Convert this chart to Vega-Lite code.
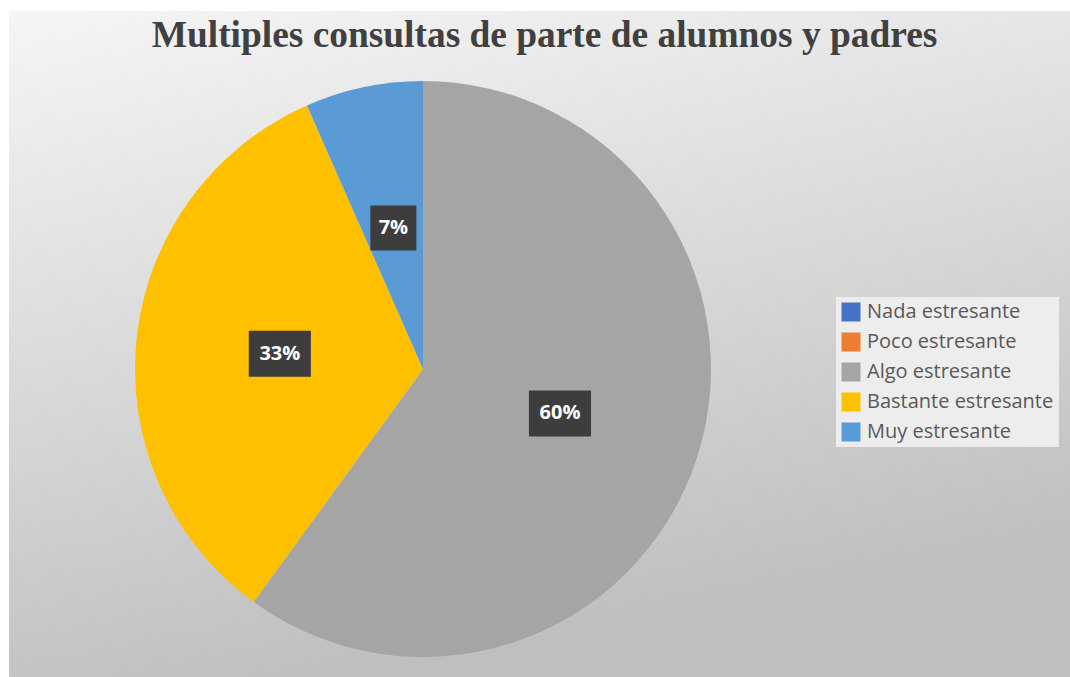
{
  "$schema": "https://vega.github.io/schema/vega-lite/v6.json",
  "width": 1061,
  "height": 666,
  "autosize": {"type": "none"},
  "padding": {"left": 9, "top": 11, "right": 0, "bottom": 0},
  "background": "#ffffff",
  "config": {"view": {"stroke": "#d4d4d4", "strokeWidth": 1}},
  "title": {
    "text": "Multiples consultas de parte de alumnos y padres",
    "font": "Liberation Serif",
    "fontSize": 37.4,
    "fontWeight": "bold",
    "color": "#404040",
    "anchor": "middle",
    "frame": "group",
    "orient": "top",
    "baseline": "alphabetic",
    "offset": -73,
    "dx": 5
  },
  "data": {
    "values": [
      {"categoria": "Nada estresante", "share": 0},
      {"categoria": "Poco estresante", "share": 0},
      {"categoria": "Algo estresante", "share": 0.600},
      {"categoria": "Bastante estresante", "share": 0.334},
      {"categoria": "Muy estresante", "share": 0.066}
    ]
  },
  "layer": [
    {
      "data": {"values": [{}]},
      "mark": {
        "type": "rect",
        "fill": {
          "gradient": "linear",
          "x1": 0, "y1": 0, "x2": 0.3, "y2": 1,
          "stops": [
            {"offset": 0, "color": "#f5f5f5"},
            {"offset": 1, "color": "#bfbfbf"}
          ]
        }
      },
      "encoding": {}
    },
    {
      "mark": {"type": "arc", "radius": 288},
      "encoding": {
        "x": {"datum": 0, "type": "quantitative", "scale": {"domain": [-1, 1], "range": [126, 702]}, "axis": null},
        "y": {"datum": 0, "type": "quantitative", "scale": {"domain": [-1, 1], "range": [646, 70]}, "axis": null},
        "theta": {"field": "share", "type": "quantitative", "stack": true},
        "color": {
          "field": "categoria",
          "type": "nominal",
          "sort": ["Nada estresante", "Poco estresante", "Algo estresante", "Bastante estresante", "Muy estresante"],
          "scale": {
            "domain": ["Nada estresante", "Poco estresante", "Algo estresante", "Bastante estresante", "Muy estresante"],
            "range": ["#4472C4", "#ED7D31", "#A5A5A5", "#FFC000", "#5B9BD5"]
          },
          "legend": {
            "title": null,
            "orient": "none",
            "legendX": 827,
            "legendY": 286,
            "direction": "vertical",
            "symbolType": "square",
            "symbolSize": 361,
            "symbolStrokeWidth": 0,
            "symbolOpacity": 1,
            "labelFont": "Open Sans",
            "labelFontSize": 20,
            "labelColor": "#595959",
            "labelOffset": 6,
            "labelLimit": 400,
            "rowPadding": 10,
            "padding": 5,
            "fillColor": "#ededed"
          }
        }
      }
    },
    {
      "transform": [
        {"window": [{"op": "sum", "field": "share", "as": "cum"}], "sort": [{"field": "categoria", "order": "ascending"}], "frame": [null, 0]},
        {"filter": "datum.share > 0"},
        {"calculate": "0.5*sin(2*PI*(datum.cum - datum.share/2))", "as": "bx"},
        {"calculate": "0.5*cos(2*PI*(datum.cum - datum.share/2))", "as": "by"}
      ],
      "layer": [
        {
          "mark": {"type": "point", "filled": true, "color": "#3d3d3d", "opacity": 1, "size": 2116},
          "encoding": {
            "x": {"field": "bx", "type": "quantitative"},
            "y": {"field": "by", "type": "quantitative"},
            "shape": {
              "field": "categoria",
              "type": "nominal",
              "scale": {
                "domain": ["Algo estresante", "Bastante estresante", "Muy estresante"],
                "range": ["M-1.35,-1H1.35V1H-1.35Z", "M-1.35,-1H1.35V1H-1.35Z", "M-1,-0.98H1V0.98H-1Z"]
              },
              "legend": null
            }
          }
        },
        {
          "mark": {"type": "text", "font": "Open Sans", "fontSize": 20, "fontWeight": "bold", "color": "#ffffff"},
          "encoding": {
            "x": {"field": "bx", "type": "quantitative"},
            "y": {"field": "by", "type": "quantitative"},
            "text": {"field": "share", "type": "quantitative", "format": ".0%"}
          }
        }
      ]
    }
  ]
}
